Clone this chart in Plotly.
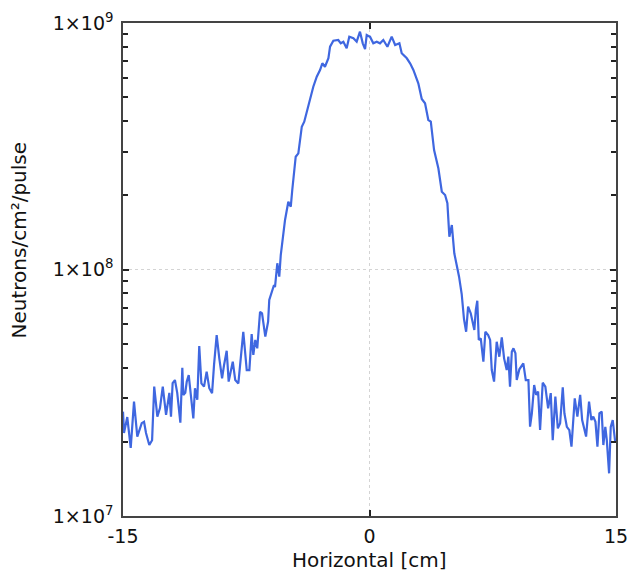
import plotly.graph_objects as go

x_cm = [-15.0, -14.94, -14.74, -14.53, -14.33, -14.13, -13.86, -13.72, -13.60, -13.40,
        -13.23, -13.10, -12.91, -12.75, -12.58, -12.38, -12.18, -12.08, -11.98, -11.84,
        -11.70, -11.51, -11.39, -11.33, -11.21, -11.12, -11.00, -10.88, -10.72, -10.62,
        -10.48, -10.36, -10.23, -10.07, -9.91, -9.75, -9.58, -9.46, -9.30, -9.14,
        -8.97, -8.85, -8.69, -8.57, -8.32, -8.17, -7.98, -7.68, -7.47, -7.31,
        -7.17, -7.07, -6.95, -6.83, -6.66, -6.54, -6.34, -6.17, -6.10, -5.81,
        -5.75, -5.61, -5.49, -5.40, -5.14, -4.94, -4.79, -4.70, -4.49, -4.33,
        -4.12, -3.97, -3.72, -3.42, -3.21, -3.01, -2.87, -2.71, -2.50, -2.40,
        -2.20, -1.90, -1.75, -1.59, -1.39, -1.23, -0.98, -0.78, -0.58, -0.41,
        -0.27, -0.17, -0.07, 0.03, 0.23, 0.44, 0.64, 0.84, 1.09, 1.35,
        1.56, 1.82, 1.96, 2.27, 2.47, 2.67, 2.97, 3.18, 3.38, 3.58,
        3.73, 3.93, 4.19, 4.40, 4.60, 4.74, 4.86, 5.01, 5.16, 5.31,
        5.45, 5.61, 5.75, 5.88, 6.00, 6.16, 6.28, 6.38, 6.47, 6.56,
        6.65, 6.77, 6.93, 7.05, 7.22, 7.34, 7.44, 7.58, 7.74, 7.90,
        8.05, 8.19, 8.35, 8.45, 8.55, 8.66, 8.76, 8.88, 8.96, 9.12,
        9.36, 9.51, 9.67, 9.77, 9.88, 10.02, 10.14, 10.26, 10.38, 10.54,
        10.70, 10.87, 11.03, 11.15, 11.31, 11.46, 11.60, 11.76, 11.86, 12.01,
        12.16, 12.29, 12.49, 12.65, 12.82, 12.94, 13.06, 13.18, 13.36, 13.50,
        13.62, 13.75, 13.87, 13.99, 14.13, 14.23, 14.35, 14.44, 14.58, 14.68,
        14.80, 14.95]

neutrons = [2.65e7, 2.17e7, 2.52e7, 1.89e7, 2.91e7, 2.10e7, 2.38e7, 2.41e7, 2.17e7, 1.94e7,
            2.03e7, 3.35e7, 2.53e7, 2.74e7, 3.35e7, 2.57e7, 3.16e7, 2.53e7, 3.46e7, 3.56e7,
            3.16e7, 2.39e7, 3.99e7, 3.10e7, 3.16e7, 3.51e7, 3.73e7, 3.05e7, 2.49e7, 3.30e7,
            2.96e7, 4.89e7, 3.45e7, 3.35e7, 3.85e7, 3.30e7, 3.15e7, 4.10e7, 5.42e7, 4.36e7,
            3.62e7, 4.10e7, 4.68e7, 3.51e7, 4.23e7, 3.56e7, 3.45e7, 5.59e7, 3.91e7, 3.91e7,
            5.47e7, 4.50e7, 5.18e7, 4.79e7, 6.74e7, 6.64e7, 5.34e7, 6.14e7, 7.52e7, 8.65e7,
            8.49e7, 1.06e8, 9.35e7, 1.145e8, 1.588e8, 1.884e8, 1.798e8, 2.101e8, 2.868e8, 2.960e8,
            3.796e8, 3.978e8, 4.648e8, 5.514e8, 6.055e8, 6.446e8, 6.864e8, 6.648e8, 7.193e8, 8.013e8,
            8.477e8, 8.531e8, 8.272e8, 8.397e8, 7.894e8, 8.798e8, 8.668e8, 8.40e8, 9.221e8, 8.27e8,
            7.842e8, 8.940e8, 8.857e8, 8.80e8, 8.27e8, 8.40e8, 8.27e8, 8.53e8, 8.01e8, 8.80e8,
            8.142e8, 8.27e8, 7.536e8, 7.19e8, 6.86e8, 6.45e8, 5.693e8, 4.917e8, 4.723e8, 4.041e8,
            3.98e8, 3.053e8, 2.574e8, 2.068e8, 2.005e8, 1.856e8, 1.359e8, 1.515e8, 1.163e8, 1.043e8,
            9.35e7, 7.954e7, 6.298e7, 5.59e7, 7.066e7, 6.64e7, 6.14e7, 5.684e7, 6.851e7, 7.471e7,
            5.18e7, 5.259e7, 4.23e7, 5.59e7, 5.42e7, 5.18e7, 3.91e7, 3.51e7, 5.094e7, 4.429e7,
            5.308e7, 4.36e7, 3.91e7, 4.43e7, 3.35e7, 4.640e7, 4.79e7, 4.571e7, 3.56e7, 3.937e7,
            4.164e7, 3.56e7, 3.56e7, 2.303e7, 2.610e7, 3.400e7, 3.10e7, 3.194e7, 2.233e7, 3.474e7,
            3.35e7, 2.735e7, 3.15e7, 2.03e7, 3.05e7, 2.269e7, 2.378e7, 3.327e7, 2.61e7, 2.30e7,
            2.23e7, 1.910e7, 3.002e7, 2.53e7, 3.10e7, 2.452e7, 2.27e7, 2.10e7, 2.91e7, 2.45e7,
            2.53e7, 2.41e7, 1.91e7, 2.61e7, 2.65e7, 1.94e7, 2.30e7, 2.03e7, 1.490e7, 2.30e7,
            2.45e7, 2.002e7]

x_ticks = [-15, 0, 15]
x_tick_labels = ["-15", "0", "15"]
y_ticks = [1e7, 1e8, 1e9]
y_tick_labels = ["1×10<sup>7</sup>", "1×10<sup>8</sup>", "1×10<sup>9</sup>"]

FONT = "DejaVu Sans"
TXT = "#111111"

fig = go.Figure()
fig.add_trace(go.Scatter(
    x=x_cm, y=neutrons, mode="lines",
    line=dict(color="#3F67E0", width=2.2),
    showlegend=False,
))

axis_common = dict(
    showline=True, linecolor="#444444", linewidth=1.5, mirror="ticks",
    ticks="inside", ticklen=6, tickcolor="#222222", tickwidth=1.5,
    showgrid=True, gridcolor="#d4d4d4", griddash="dot", gridwidth=1,
    zeroline=False, automargin=False,
    tickfont=dict(family=FONT, size=19, color=TXT),
)

fig.update_xaxes(
    range=[-15, 15], tickvals=x_ticks, ticktext=x_tick_labels,
    ticklabelstandoff=2,
    **axis_common,
)
fig.update_yaxes(
    type="log", range=[7, 9], tickvals=y_ticks, ticktext=y_tick_labels,
    minor=dict(ticks="inside", ticklen=5, tickcolor="#222222", dtick="D1", showgrid=False),
    ticklabelstandoff=4,
    **axis_common,
)

fig.add_annotation(
    text="Horizontal [cm]",
    xref="paper", yref="paper", x=0.5, y=-0.089,
    xanchor="center", yanchor="middle", showarrow=False,
    font=dict(family=FONT, size=20, color=TXT),
)
fig.add_annotation(
    text="Neutrons/cm²/pulse", textangle=-90,
    xref="paper", yref="paper", x=-0.209, y=0.357,
    xanchor="center", yanchor="bottom", showarrow=False,
    font=dict(family=FONT, size=20, color=TXT),
)

fig.update_layout(
    width=629, height=578,
    margin=dict(l=123, r=13, t=23, b=62),
    plot_bgcolor="white", paper_bgcolor="white",
    font=dict(family=FONT, size=19, color=TXT),
)

fig.write_html("out.html")
